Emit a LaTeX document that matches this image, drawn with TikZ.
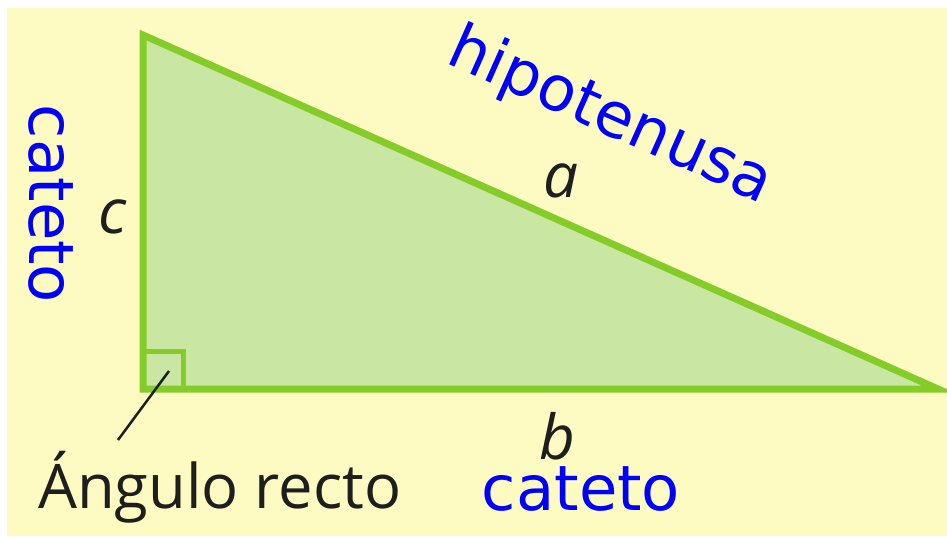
\documentclass[tikz,border=0pt]{standalone}
\usepackage{fontspec}
\newfontfamily\labfont{Open Sans}
\newfontfamily\bluefont{DejaVu Sans}
\definecolor{bgyellow}{HTML}{FEFBC2}
\definecolor{trigreen}{HTML}{84CC28}
\definecolor{trifill}{HTML}{C9E6A2}
\definecolor{blueword}{HTML}{0000FF}
\definecolor{inkgray}{HTML}{1E1E1E}
\begin{document}
\begin{tikzpicture}[x=1pt,y=-1pt,
  side/.style={draw=trigreen,line width=7pt,fill=trifill,line join=miter},
  rightmark/.style={draw=trigreen,line width=5pt},
  leader/.style={draw=inkgray,line width=2.5pt},
  varlabel/.style={font=\labfont\itshape\fontsize{62}{62}\selectfont,text=inkgray,inner sep=0pt,anchor=base},
  notelabel/.style={font=\labfont\fontsize{61.5}{61.5}\selectfont,text=inkgray,inner sep=0pt,anchor=base west},
  blueword/.style={font=\bluefont\fontsize{62.5}{62.5}\selectfont,text=blueword,inner sep=0pt,anchor=base}]
\useasboundingbox (0,0) rectangle (947,536);
\fill[bgyellow] (7,8) rectangle (947,536);
\coordinate (T) at (143,35);
\coordinate (R) at (143,389);
\coordinate (E) at (938,389);
\path[side] (T) -- (R) -- (E) -- cycle;
\coordinate (sqa) at (143,351);
\coordinate (sqb) at (183,351);
\coordinate (sqc) at (183,389);
\draw[rightmark] (sqa) -- (sqb) -- (sqc);
\coordinate (lineA) at (169,371);
\coordinate (lineB) at (118,440);
\draw[leader] (lineA) -- (lineB);
\node[varlabel] (la) at (561,197) {a};
\node[varlabel] (lb) at (557,459) {b};
\node[varlabel] (lc) at (113,233) {c};
\node[notelabel] (note) at (38,508) {Ángulo recto};
\node[blueword] (cb) at (581,510) {cateto};
\node[blueword,rotate=-90] (cl) at (29,204) {cateto};
\node[blueword,rotate=-24] (hyp) at (603,133) {hipotenusa};
\end{tikzpicture}
\end{document}
